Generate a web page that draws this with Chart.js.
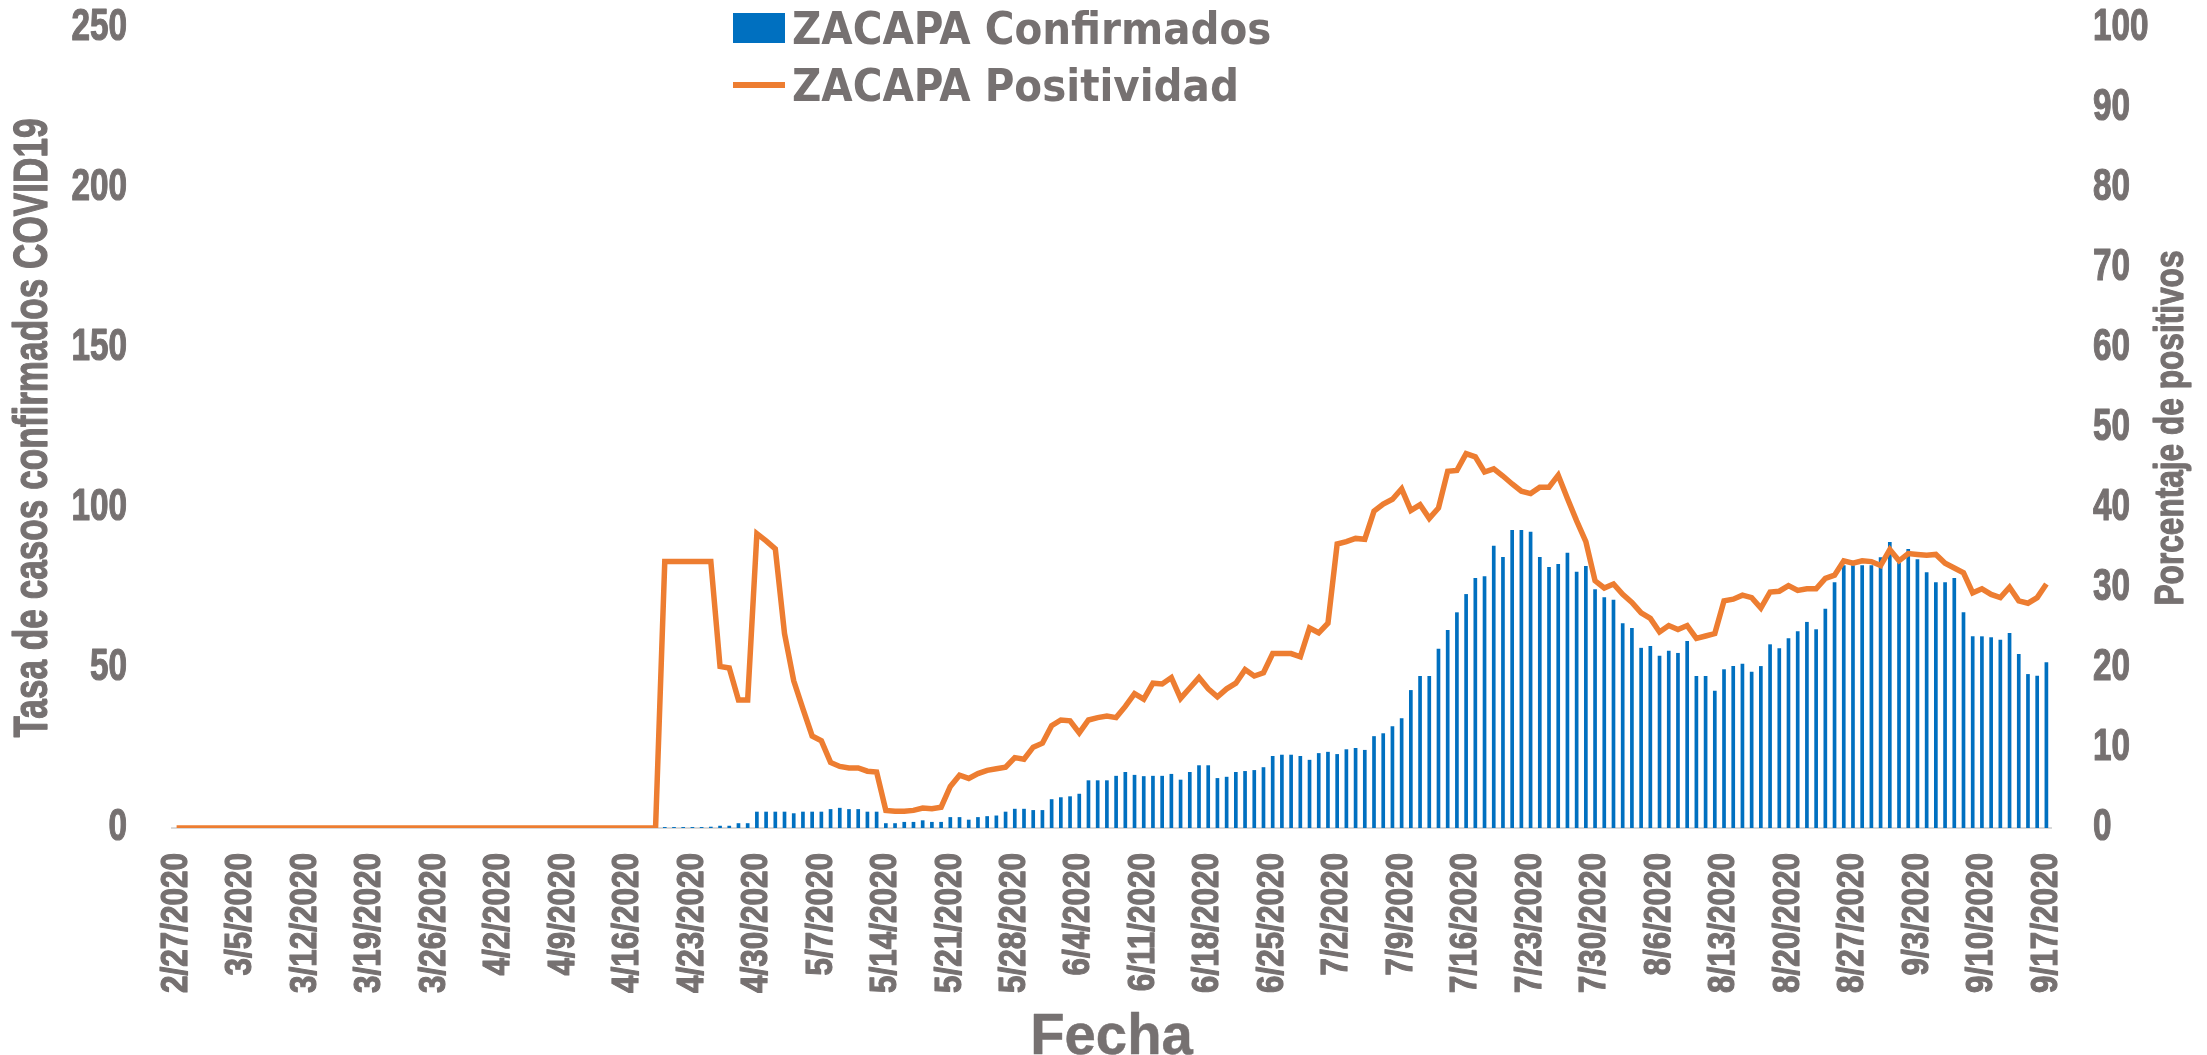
<!DOCTYPE html>
<html>
<head>
<meta charset="utf-8">
<script src="https://cdn.jsdelivr.net/npm/chart.js@4.4.1/dist/chart.umd.min.js"></script>
<style>
  html, body { margin: 0; padding: 0; background: #fff; }
  #wrap { position: relative; width: 2207px; height: 1055px; }
  .leg {
    position: absolute; left: 733px; height: 56px;
    display: flex; align-items: center; white-space: nowrap;
    font-family: 'DejaVu Sans Condensed', 'DejaVu Sans', sans-serif;
    font-stretch: condensed; font-weight: bold; font-size: 45px; color: #767171;
  }
  .leg .mk { width: 52px; margin-right: 7px; }
</style>
</head>
<body>
<div id="wrap">
  <canvas id="chart" width="2207" height="1055"></canvas>
  <div class="leg" style="top:0px"><span class="mk" style="height:30px;background:#0070C0"></span>ZACAPA Confirmados</div>
  <div class="leg" style="top:57px"><span class="mk" style="height:6px;background:#ED7D31"></span>ZACAPA Positividad</div>
</div>
<script>
// fechas diarias 2/27/2020 - 9/17/2020
const startDate = new Date(2020, 1, 27);
const numDays = 204;
const fechas = [];
for (let i = 0; i < numDays; i++) {
  const d = new Date(startDate.getFullYear(), startDate.getMonth(), startDate.getDate() + i);
  fechas.push((d.getMonth() + 1) + '/' + d.getDate() + '/' + d.getFullYear());
}

// tasa de casos confirmados (eje izquierdo)
const confirmados = [
  0,0,0,0,0,0,0,0,0,0, 0,0,0,0,0,0,0,0,0,0,
  0,0,0,0,0,0,0,0,0,0, 0,0,0,0,0,0,0,0,0,0,
  0,0,0,0,0,0,0,0,0,0, 0,0,0,
  0.3,0.3,0.3,0.3,0.3,0.4,0.7,0.7,1.5,1.5,
  5.1,5.1,5.1,5.1,4.6,5.1,5.1,5.1,5.9,6.3,5.9,5.9,5.1,5.1,
  1.5,1.5,1.9,1.9,2.4,1.9,1.9,3.4,3.4,2.6,3.4,3.7,3.9,
  5.1,6.0,6.0,5.6,5.6,9.0,9.6,9.9,10.7,14.9,14.9,14.9,16.3,17.5,16.6,16.2,16.3,16.3,16.9,15.1,
  17.5,19.6,19.6,15.6,16.0,17.5,17.8,18.1,19.0,22.5,22.9,22.9,22.5,21.3,23.4,23.8,23.1,24.6,25.0,
  24.4,28.7,29.6,31.8,34.3,43.1,47.5,47.5,56.0,61.9,67.4,73.1,78.1,78.7,88.2,84.7,93.1,93.1,92.6,84.7,
  81.6,82.5,86.0,80.1,81.9,74.6,72.1,71.3,64.0,62.5,56.3,56.9,53.8,55.4,54.7,58.4,47.5,47.5,42.9,
  49.6,50.6,51.3,48.8,50.6,57.4,56.2,59.3,61.5,64.4,62.1,68.5,76.8,82.1,82.1,82.1,82.1,84.6,
  89.4,82.8,87.2,84.0,79.9,76.8,76.8,78.1,67.4,59.9,59.9,59.6,58.8,60.9,54.4,48.1,47.6,51.8
];

// porcentaje de positividad (eje derecho)
const positividad = [
  0,0,0,0,0,0,0,0,0,0, 0,0,0,0,0,0,0,0,0,0,
  0,0,0,0,0,0,0,0,0,0, 0,0,0,0,0,0,0,0,0,0,
  0,0,0,0,0,0,0,0,0,0, 0,0,0,
  33.3,33.3,33.3,33.3,33.3,33.3,20.2,20.0,16.0,16.0,
  36.8,35.9,34.9,24.3,18.4,14.9,11.5,10.9,8.2,7.7,7.5,7.5,7.1,7.0,
  2.2,2.1,2.1,2.2,2.5,2.4,2.6,5.2,6.6,6.2,6.8,7.2,7.4,
  7.6,8.8,8.6,10.1,10.6,12.8,13.5,13.4,11.9,13.5,13.8,14.0,13.8,15.2,16.8,16.1,18.1,18.0,18.8,16.2,
  17.5,18.8,17.4,16.4,17.4,18.1,19.8,19.0,19.4,21.8,21.8,21.8,21.4,25.0,24.4,25.6,35.5,35.8,36.2,
  36.1,39.6,40.5,41.1,42.4,39.7,40.4,38.7,40.0,44.6,44.7,46.8,46.4,44.5,44.9,44.0,43.0,42.1,41.8,42.6,
  42.6,44.1,41.2,38.4,35.8,30.9,30.0,30.5,29.2,28.2,26.9,26.2,24.5,25.3,24.8,25.3,23.7,24.0,24.3,
  28.4,28.6,29.1,28.8,27.5,29.5,29.6,30.3,29.7,29.9,29.9,31.2,31.6,33.4,33.1,33.4,33.3,32.8,
  34.8,33.4,34.3,34.2,34.1,34.2,33.1,32.5,31.9,29.4,29.9,29.2,28.8,30.1,28.4,28.1,28.8,30.5
];

const ticksIzq = [0, 50, 100, 150, 200, 250];
const ticksDer = [0, 10, 20, 30, 40, 50, 60, 70, 80, 90, 100];

const GRIS = '#767171';
const FUENTE = "'Liberation Sans', Arial, sans-serif";

// texto angosto (la fuente original es condensada y muy gruesa)
function textoAngosto(ctx, txt, x, y, o) {
  ctx.save();
  ctx.translate(x, y);
  if (o.rot) ctx.rotate(o.rot);
  ctx.font = 'bold ' + o.size + 'px ' + (o.family || FUENTE);
  let sx = o.sx || 1;
  if (o.largo) sx = o.largo / ctx.measureText(txt).width;
  ctx.scale(sx, 1);
  ctx.fillStyle = GRIS;
  ctx.strokeStyle = GRIS;
  ctx.lineWidth = o.grosor || 1.2;
  ctx.lineJoin = 'round';
  ctx.textAlign = o.align || 'center';
  ctx.textBaseline = o.base || 'middle';
  ctx.fillText(txt, 0, 0);
  ctx.strokeText(txt, 0, 0);
  ctx.restore();
}

// ticks y titulos dibujados con las escalas de Chart.js
const textosEjes = {
  id: 'textosEjes',
  afterDraw(chart) {
    const { ctx, chartArea, scales } = chart;
    const midY = (chartArea.top + chartArea.bottom) / 2;

    ticksIzq.forEach(v => {
      textoAngosto(ctx, String(v), 127, scales.y.getPixelForValue(v), { size: 45, sx: 0.74, align: 'right' });
    });
    ticksDer.forEach(v => {
      textoAngosto(ctx, String(v), 2093, scales.y1.getPixelForValue(v), { size: 45, sx: 0.74, align: 'left' });
    });
    fechas.forEach((f, i) => {
      if (i % 7 !== 0) return;
      textoAngosto(ctx, f, scales.x.getPixelForValue(i), chartArea.bottom + 25,
        { size: 37, sx: 0.85, align: 'right', rot: -Math.PI / 2 });
    });

    textoAngosto(ctx, 'Tasa de casos confirmados COVID19', 33, midY,
      { size: 49, largo: 619, rot: -Math.PI / 2 });
    textoAngosto(ctx, 'Porcentaje de positivos', 2172, midY,
      { size: 40, largo: 355, rot: -Math.PI / 2 });
    textoAngosto(ctx, 'Fecha', (chartArea.left + chartArea.right) / 2, 1054,
      { size: 58, sx: 0.97, base: 'alphabetic', grosor: 0.5 });
  }
};

function initChart() {
  const ctx = document.getElementById('chart').getContext('2d');
  new Chart(ctx, {
    data: {
      labels: fechas,
      datasets: [
        {
          type: 'line',
          label: 'ZACAPA Positividad',
          data: positividad,
          yAxisID: 'y1',
          borderColor: '#ED7D31',
          borderWidth: 5.5,
          pointRadius: 0,
          tension: 0,
          order: 1
        },
        {
          type: 'bar',
          label: 'ZACAPA Confirmados',
          data: confirmados,
          yAxisID: 'y',
          backgroundColor: '#0070C0',
          barPercentage: 0.4,
          categoryPercentage: 1,
          order: 2
        }
      ]
    },
    options: {
      responsive: false,
      devicePixelRatio: 1,
      animation: false,
      layout: { padding: { top: 28, left: 0, right: 0, bottom: 0 } },
      plugins: { legend: { display: false }, tooltip: { enabled: false } },
      scales: {
        x: {
          grid: { display: false, drawTicks: false },
          border: { display: true, color: '#D9D9D9', width: 2 },
          ticks: { display: false },
          afterFit(scale) { scale.height = 227; }
        },
        y: {
          position: 'left',
          min: 0,
          max: 250,
          grid: { display: false, drawTicks: false },
          border: { display: false },
          ticks: { display: false },
          afterFit(scale) { scale.width = 172; }
        },
        y1: {
          position: 'right',
          min: 0,
          max: 100,
          grid: { display: false, drawTicks: false },
          border: { display: false },
          ticks: { display: false },
          afterFit(scale) { scale.width = 156; }
        }
      }
    },
    plugins: [textosEjes]
  });
}

document.addEventListener('DOMContentLoaded', initChart);
</script>
</body>
</html>
